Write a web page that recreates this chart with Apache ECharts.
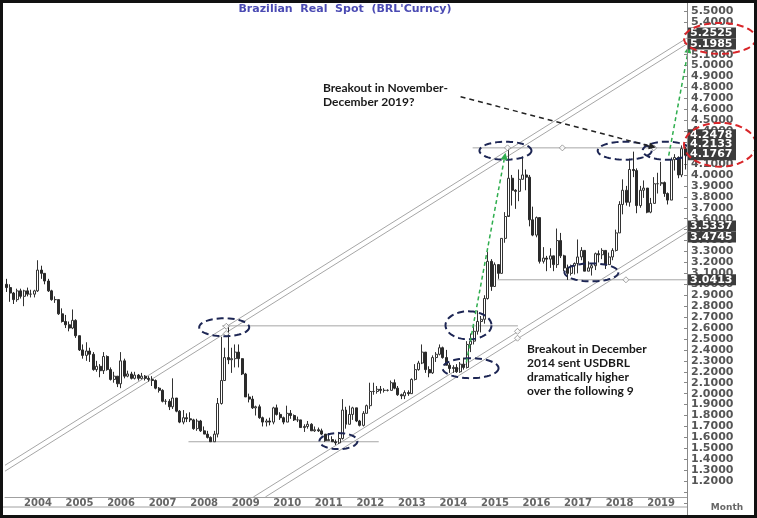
<!DOCTYPE html>
<html><head><meta charset="utf-8">
<script src="https://cdn.jsdelivr.net/npm/echarts/dist/echarts.min.js"></script>
<style>html,body{margin:0;padding:0;background:#fff}#c{width:757px;height:518px}</style>
</head><body><div id="c"></div>
<script>
// ---------------- DATA (monthly USDBRL candles: [open, close, low, high]) ----------------
const ohlc2003 = [ // Aug - Dec
 [3.00,2.97,2.93,3.05],[2.97,2.92,2.84,3.00],[2.92,2.86,2.82,2.93],[2.86,2.94,2.84,2.96],[2.94,2.89,2.87,2.96]];
const ohlc2004 = [
 [2.89,2.94,2.80,2.95],[2.94,2.91,2.89,2.97],[2.91,2.91,2.88,2.95],[2.91,2.94,2.88,2.95],[2.94,3.13,2.93,3.22],[3.13,3.10,3.05,3.17],
 [3.10,3.03,3.00,3.10],[3.03,2.94,2.93,3.05],[2.94,2.86,2.85,2.95],[2.86,2.86,2.83,2.89],[2.86,2.73,2.72,2.86],[2.73,2.66,2.65,2.78]];
const ohlc2005 = [
 [2.66,2.63,2.60,2.72],[2.63,2.60,2.57,2.66],[2.60,2.67,2.59,2.77],[2.67,2.53,2.51,2.68],[2.53,2.40,2.39,2.53],[2.40,2.35,2.32,2.45],
 [2.35,2.39,2.30,2.47],[2.39,2.36,2.29,2.42],[2.36,2.22,2.21,2.38],[2.22,2.25,2.20,2.30],[2.25,2.21,2.15,2.27],[2.21,2.34,2.18,2.38]];
const ohlc2006 = [
 [2.34,2.22,2.21,2.35],[2.22,2.13,2.12,2.24],[2.13,2.16,2.10,2.20],[2.16,2.09,2.06,2.16],[2.09,2.30,2.05,2.38],[2.30,2.16,2.14,2.32],
 [2.16,2.18,2.15,2.21],[2.18,2.14,2.13,2.20],[2.14,2.17,2.13,2.20],[2.17,2.14,2.12,2.18],[2.14,2.16,2.13,2.19],[2.16,2.14,2.12,2.17]];
const ohlc2007 = [
 [2.14,2.13,2.11,2.16],[2.13,2.12,2.07,2.16],[2.12,2.05,2.04,2.13],[2.05,2.03,2.01,2.06],[2.03,1.93,1.92,2.04],[1.93,1.93,1.90,1.95],
 [1.93,1.88,1.85,1.95],[1.88,1.96,1.86,2.14],[1.96,1.84,1.83,1.96],[1.84,1.74,1.73,1.85],[1.74,1.78,1.72,1.85],[1.78,1.77,1.74,1.82]];
const ohlc2008 = [
 [1.77,1.76,1.74,1.83],[1.76,1.68,1.67,1.77],[1.68,1.75,1.66,1.77],[1.75,1.66,1.65,1.76],[1.66,1.63,1.63,1.70],[1.63,1.60,1.59,1.66],
 [1.60,1.56,1.56,1.61],[1.56,1.63,1.56,1.66],[1.63,1.91,1.60,1.96],[1.91,2.12,1.90,2.52],[2.12,2.33,2.12,2.42],[2.33,2.31,2.27,2.62]];
const ohlc2009 = [
 [2.31,2.32,2.19,2.42],[2.32,2.38,2.24,2.45],[2.38,2.32,2.24,2.45],[2.32,2.18,2.17,2.30],[2.18,1.97,1.97,2.19],[1.97,1.95,1.92,2.00],
 [1.95,1.87,1.86,1.98],[1.87,1.88,1.80,1.89],[1.88,1.78,1.77,1.90],[1.78,1.74,1.70,1.79],[1.74,1.75,1.70,1.77],[1.75,1.74,1.71,1.78]];
const ohlc2010 = [
 [1.74,1.87,1.72,1.88],[1.87,1.81,1.80,1.90],[1.81,1.78,1.76,1.83],[1.78,1.74,1.72,1.79],[1.74,1.82,1.74,1.89],[1.82,1.80,1.77,1.85],
 [1.80,1.76,1.75,1.81],[1.76,1.76,1.74,1.79],[1.76,1.69,1.69,1.76],[1.69,1.70,1.65,1.72],[1.70,1.72,1.68,1.75],[1.72,1.66,1.66,1.73]];
const ohlc2011 = [
 [1.66,1.67,1.65,1.70],[1.67,1.66,1.65,1.69],[1.66,1.63,1.62,1.68],[1.63,1.57,1.56,1.63],[1.57,1.58,1.57,1.64],[1.58,1.56,1.56,1.61],
 [1.56,1.55,1.53,1.58],[1.55,1.59,1.54,1.65],[1.59,1.85,1.58,1.95],[1.85,1.72,1.68,1.88],[1.72,1.81,1.72,1.89],[1.81,1.87,1.76,1.88]];
const ohlc2012 = [
 [1.87,1.75,1.74,1.87],[1.75,1.71,1.70,1.76],[1.71,1.82,1.70,1.84],[1.82,1.89,1.82,1.90],[1.89,2.02,1.86,2.10],[2.02,2.02,1.99,2.10],
 [2.02,2.04,2.00,2.07],[2.04,2.03,2.00,2.07],[2.03,2.03,2.01,2.05],[2.03,2.03,2.02,2.04],[2.03,2.10,2.03,2.12],[2.10,2.05,2.04,2.13]];
const ohlc2013 = [
 [2.05,1.99,1.98,2.07],[1.99,1.98,1.95,2.00],[1.98,2.01,1.95,2.03],[2.01,2.00,1.98,2.03],[2.00,2.13,2.00,2.14],[2.13,2.22,2.12,2.27],
 [2.22,2.28,2.21,2.30],[2.28,2.38,2.27,2.45],[2.38,2.22,2.19,2.38],[2.22,2.19,2.15,2.25],[2.19,2.33,2.18,2.35],[2.33,2.36,2.29,2.38]];
const ohlc2014 = [
 [2.36,2.42,2.35,2.45],[2.42,2.33,2.32,2.43],[2.33,2.26,2.26,2.40],[2.26,2.23,2.19,2.28],[2.23,2.24,2.19,2.26],[2.24,2.20,2.19,2.27],
 [2.20,2.27,2.19,2.29],[2.27,2.24,2.22,2.33],[2.24,2.45,2.23,2.48],[2.45,2.48,2.38,2.55],[2.48,2.57,2.45,2.62],[2.57,2.66,2.54,2.76]];
const ohlc2015 = [
 [2.66,2.68,2.56,2.71],[2.68,2.87,2.64,2.90],[2.87,3.21,2.86,3.30],[3.21,2.98,2.94,3.23],[2.98,3.18,2.98,3.20],[3.18,3.10,3.05,3.18],
 [3.10,3.42,3.10,3.42],[3.42,3.62,3.38,3.66],[3.62,3.97,3.63,4.2478],[3.97,3.86,3.72,4.00],[3.86,3.85,3.69,3.87],[3.85,3.96,3.76,4.05]];
const ohlc2016 = [
 [3.96,4.00,3.96,4.17],[4.00,3.98,3.86,4.05],[3.98,3.59,3.53,4.00],[3.59,3.45,3.44,3.71],[3.45,3.61,3.43,3.62],[3.61,3.21,3.19,3.61],
 [3.21,3.24,3.19,3.34],[3.24,3.23,3.12,3.26],[3.23,3.26,3.15,3.33],[3.26,3.18,3.12,3.26],[3.18,3.40,3.15,3.51],[3.40,3.26,3.24,3.47]];
const ohlc2017 = [
 [3.26,3.15,3.12,3.27],[3.15,3.10,3.04,3.18],[3.10,3.17,3.08,3.18],[3.17,3.19,3.09,3.20],[3.19,3.25,3.10,3.41],[3.25,3.31,3.22,3.34],
 [3.31,3.12,3.12,3.31],[3.12,3.15,3.12,3.21],[3.15,3.17,3.08,3.19],[3.17,3.28,3.13,3.29],[3.28,3.27,3.20,3.31],[3.27,3.31,3.23,3.33]];
const ohlc2018 = [
 [3.31,3.18,3.14,3.31],[3.18,3.25,3.19,3.29],[3.25,3.31,3.22,3.33],[3.31,3.47,3.30,3.50],[3.47,3.73,3.47,3.76],[3.73,3.86,3.64,3.96],
 [3.86,3.75,3.72,3.90],[3.75,4.05,3.71,4.15],[4.05,4.04,3.98,4.2133],[4.04,3.72,3.65,4.06],[3.72,3.86,3.70,3.90],[3.86,3.88,3.79,3.95]];
const ohlc2019 = [
 [3.88,3.66,3.65,3.88],[3.66,3.74,3.65,3.79],[3.74,3.92,3.74,3.98],[3.92,3.92,3.83,4.02],[3.92,3.93,3.90,4.12],[3.93,3.83,3.80,3.94],
 [3.83,3.77,3.73,3.84],[3.77,4.14,3.77,4.16],[4.14,4.16,4.04,4.19],[4.16,4.00,3.97,4.17],[4.00,4.24,3.98,4.27],[4.24,4.18,4.05,4.26]];

const yearBlocks = [
 [2003,8,ohlc2003],[2004,1,ohlc2004],[2005,1,ohlc2005],[2006,1,ohlc2006],[2007,1,ohlc2007],[2008,1,ohlc2008],
 [2009,1,ohlc2009],[2010,1,ohlc2010],[2011,1,ohlc2011],[2012,1,ohlc2012],[2013,1,ohlc2013],[2014,1,ohlc2014],
 [2015,1,ohlc2015],[2016,1,ohlc2016],[2017,1,ohlc2017],[2018,1,ohlc2018],[2019,1,ohlc2019]];

// y-axis tags shown at the right edge
const tagValues = [5.2525, 5.1985, 4.2478, 4.2133, 4.1767, 3.5337, 3.4745, 3.0413];

// trend channel lines: [[year, value], [year, value]]
const channelLines = [
 [[2003.5833, 1.345], [2020, 5.2525]],
 [[2003.5833, 1.291], [2020, 5.1985]],
 [[2009.562, 1.055], [2020, 3.5337]],
 [[2009.851, 1.055], [2020, 3.4745]]];
// horizontal levels: [value, fromYear, toYear]
const levelLines = [[1.56, 2008.0, 2012.58],[2.62, 2008.81, 2015.93],[3.0413, 2015.44, 2020],[4.2478, 2014.84, 2020]];
// diamond handles [year, value]
const handles = [[2008.91,2.616],[2008.91,2.55],[2015.92,2.57],[2015.92,2.507],[2018.53,3.0413],[2015.68,4.2478],[2017.0,4.2478],[2019.2,4.2478]];
// dashed ellipse centres [year, value]
const ellipseCentres = [[2008.86,2.607],[2011.61,1.566],[2014.74,2.625],[2014.79,2.233],[2015.63,4.222],[2017.70,3.109],[2018.50,4.222],[2019.51,4.222]];
// arrows [fromYear, fromValue, toYear, toValue]
const greenArrows = [[2014.69,2.287,2015.63,4.204],[2019.56,4.177,2020.05,5.18]];
const blackArrows = [[2014.55,4.715,2019.25,4.25]];

// ---------------- BUILD ----------------
const categories = [], candles = [];
yearBlocks.forEach(([y, m0, arr]) => arr.forEach((d, i) => {
  categories.push(y + '-' + String(m0 + i).padStart(2, '0'));
  candles.push(d);
}));
const isJan = (i, v) => String(v).endsWith('-01');

const ellipseSizes = [[25,9],[19,8],[23,14],[28,10],[26,9],[27,9],[27,9],[24,9]];
function ellipsePts(cx, cy, rx, ry) {
  const p = [];
  for (let k = 0; k < 60; k++) { const a = k / 60 * Math.PI * 2; p.push([cx + rx * Math.cos(a), cy + ry * Math.sin(a)]); }
  return p;
}
function arrowItem(api, color, dash) {
  const a = api.coord([api.value(0), api.value(1)]), b = api.coord([api.value(2), api.value(3)]);
  const ang = Math.atan2(b[1] - a[1], b[0] - a[0]), L = 7, W = 3.5;
  const bx = b[0] - L * Math.cos(ang), by = b[1] - L * Math.sin(ang);
  return {type: 'group', children: [
    {type: 'line', shape: {x1: a[0], y1: a[1], x2: bx, y2: by}, style: {stroke: color, lineWidth: 1.5, lineDash: dash}},
    {type: 'polygon', shape: {points: [[b[0], b[1]], [bx - W * Math.sin(ang), by + W * Math.cos(ang)], [bx + W * Math.sin(ang), by - W * Math.cos(ang)]]}, style: {fill: color}}
  ]};
}

const chart = echarts.init(document.getElementById('c'), null, {renderer: 'canvas'});
const lineStyleGray = {color: '#a6a6a6', width: 1};
const option = {
  animation: false,
  backgroundColor: '#ffffff',
  grid: [
    {left: 5, right: 70, top: -1, height: 504},
    {left: 5, right: 70, top: 487, height: 10}
  ],
  xAxis: [
    {type: 'category', gridIndex: 0, data: categories, show: false, boundaryGap: true},
    {type: 'value', gridIndex: 0, min: 2003 + 7 / 12, max: 2020, show: false},
    {type: 'category', gridIndex: 1, data: categories, boundaryGap: true,
      axisLine: {lineStyle: {color: '#a0a0a0'}},
      axisTick: {interval: isJan, length: 10, lineStyle: {color: '#a0a0a0'}},
      axisLabel: {interval: isJan, formatter: v => v.slice(0, 4), align: 'left', margin: 1, color: '#666',
        fontFamily: 'DejaVu Sans', fontWeight: 'bold', fontSize: 10}}
  ],
  yAxis: [
    {type: 'value', gridIndex: 0, position: 'right', min: 1.0, max: 5.6, interval: 0.1,
      axisLine: {show: false}, splitLine: {show: false},
      axisTick: {show: true, inside: true, length: 3, lineStyle: {color: '#888'}},
      axisLabel: {margin: 4, color: '#555', fontFamily: 'DejaVu Sans', fontWeight: 'bold', fontSize: 11,
        formatter: v => (v < 1.15 || v > 5.55) ? '' : v.toFixed(4)}},
    {type: 'value', gridIndex: 1, show: false}
  ],
  series: [
    {type: 'candlestick', xAxisIndex: 0, yAxisIndex: 0, data: candles, barWidth: '72%', z: 3, silent: true,
      itemStyle: {color: '#ffffff', color0: '#2a2a2a', borderColor: '#333333', borderColor0: '#2a2a2a', borderWidth: 1}},
    ...channelLines.map(l => ({type: 'line', xAxisIndex: 1, yAxisIndex: 0, data: l, symbol: 'none', silent: true, z: 2, lineStyle: lineStyleGray})),
    ...levelLines.map(([v, a, b]) => ({type: 'line', xAxisIndex: 1, yAxisIndex: 0, data: [[a, v], [b, v]], symbol: 'none', silent: true, z: 2, lineStyle: lineStyleGray})),
    {type: 'scatter', xAxisIndex: 1, yAxisIndex: 0, data: handles, symbol: 'diamond', symbolSize: 6, z: 4, silent: true,
      itemStyle: {color: '#ffffff', borderColor: '#8a8a8a', borderWidth: 1}},
    {type: 'custom', xAxisIndex: 1, yAxisIndex: 0, data: ellipseCentres, clip: false, z: 6, silent: true,
      encode: {x: 0, y: 1},
      renderItem: (params, api) => {
        const c = api.coord([api.value(0), api.value(1)]);
        const s = ellipseSizes[params.dataIndex];
        return {type: 'polygon', shape: {points: ellipsePts(c[0], c[1], s[0], s[1])},
          style: {fill: 'none', stroke: '#1d2654', lineWidth: 2, lineDash: [7, 4]}};
      }},
    {type: 'custom', xAxisIndex: 1, yAxisIndex: 0, data: greenArrows, clip: false, z: 7, silent: true,
      encode: {x: [0, 2], y: [1, 3]},
      renderItem: (params, api) => arrowItem(api, '#2fae4e', [4, 3])},
    {type: 'custom', xAxisIndex: 1, yAxisIndex: 0, data: blackArrows, clip: false, z: 7, silent: true,
      encode: {x: [0, 2], y: [1, 3]},
      renderItem: (params, api) => arrowItem(api, '#222222', [5, 4])}
  ]
};
chart.setOption(option);

// ---- overlay texts and value tags ----
const tagShift = [-5, 0, -13, -7, -1, 0, 4.5, 0];
const g = [];
const tagY = tagValues.map((v, i) => chart.convertToPixel({yAxisIndex: 0}, v) + tagShift[i]);
tagValues.forEach((v, i) => {
  g.push({type: 'rect', z: 100, shape: {x: 688, y: tagY[i] - 5.5, width: 48, height: 11}, style: {fill: '#3c3c3c'}});
  g.push({type: 'text', z: 101, x: 690, y: tagY[i], style: {text: v.toFixed(4), fill: '#ffffff', font: 'bold 11px "DejaVu Sans"', verticalAlign: 'middle'}});
});
const redGroups = [[0, 1], [2, 4]];
redGroups.forEach(([a, b], k) => {
  const cy = (tagY[a] + tagY[b]) / 2;
  const ry = (tagY[b] - tagY[a]) / 2 + (k === 0 ? 10 : 12);
  g.push({type: 'polygon', z: 102, shape: {points: ellipsePts(720, cy, 36, ry)}, style: {fill: 'none', stroke: '#d8262a', lineWidth: 2, lineDash: [7, 4]}});
});
g.push({type: 'text', z: 50, x: 345, y: 9, style: {text: "Brazilian  Real  Spot  (BRL'Curncy)", fill: '#4b4bb3', font: 'bold 11px "DejaVu Sans"', align: 'center', verticalAlign: 'middle'}});
g.push({type: 'text', z: 50, x: 323, y: 81, style: {text: 'Breakout in November-\nDecember 2019?', fill: '#1a1a1a', font: 'bold 12px Lato', lineHeight: 14}});
g.push({type: 'text', z: 50, x: 527, y: 342, style: {text: 'Breakout in December\n2014 sent USDBRL\ndramatically higher\nover the following 9', fill: '#1a1a1a', font: 'bold 12px Lato', lineHeight: 14}});
g.push({type: 'text', z: 50, x: 727, y: 508, style: {text: 'Month', fill: '#666', font: 'bold 9px "DejaVu Sans"', align: 'center', verticalAlign: 'middle'}});
g.push({type: 'line', z: 40, shape: {x1: 3, y1: 507, x2: 687, y2: 507}, style: {stroke: '#a0a0a0', lineWidth: 1}});
g.push({type: 'line', z: 40, shape: {x1: 687.5, y1: 0, x2: 687.5, y2: 518}, style: {stroke: '#888', lineWidth: 1}});
g.push({type: 'rect', z: 120, shape: {x: 1.5, y: 1.5, width: 754, height: 515}, style: {fill: 'none', stroke: '#111', lineWidth: 3}});
chart.setOption({graphic: g});
</script></body></html>
